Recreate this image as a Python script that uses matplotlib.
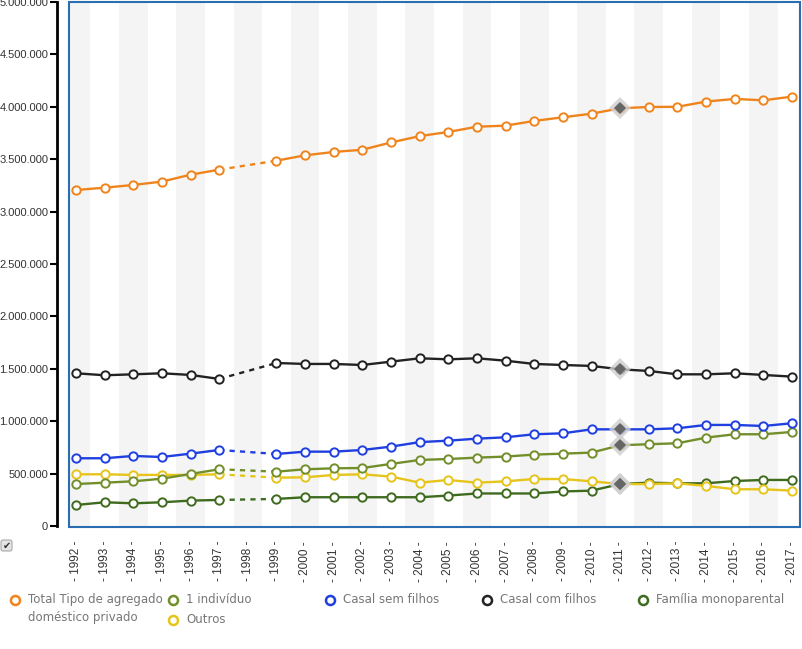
import matplotlib.pyplot as plt
import matplotlib.ticker as mticker
from matplotlib.patches import Rectangle, FancyBboxPatch
import numpy as np

# --- data, 1998 has no value ---
years = list(range(1992, 2018))
total = [3206000, 3228000, 3254000, 3286000, 3352000, 3400000, None, 3486000,
         3537000, 3569000, 3590000, 3660000, 3720000, 3760000, 3810000, 3820000,
         3865000, 3900000, 3934000, 3986000, 3998000, 4000000, 4050000, 4075000,
         4062000, 4097000]
um_individuo = [400000, 413000, 426000, 451000, 496000, 541000, None, 518000,
                541000, 550000, 553000, 592000, 630000, 639000, 652000, 662000,
                681000, 690000, 700000, 770000, 780000, 789000, 843000, 875000,
                875000, 897000]
casal_sem = [646000, 646000, 668000, 658000, 690000, 725000, None, 687000,
             709000, 709000, 725000, 757000, 800000, 814000, 833000, 846000,
             875000, 884000, 922000, 922000, 922000, 932000, 964000, 964000,
             954000, 980000]
casal_com = [1457000, 1438000, 1447000, 1457000, 1441000, 1403000, None, 1555000,
             1546000, 1546000, 1536000, 1568000, 1600000, 1590000, 1600000, 1577000,
             1546000, 1536000, 1527000, 1495000, 1479000, 1447000, 1447000, 1457000,
             1441000, 1425000]
monoparental = [200000, 226000, 216000, 226000, 242000, 248000, None, 258000,
                274000, 274000, 274000, 274000, 274000, 290000, 310000, 310000,
                310000, 329000, 337000, 400000, 413000, 407000, 407000, 429000,
                439000, 439000]
outros = [493000, 493000, 487000, 487000, 487000, 493000, None, 461000,
          464000, 487000, 493000, 471000, 413000, 439000, 413000, 426000,
          448000, 448000, 426000, 400000, 400000, 407000, 382000, 350000,
          350000, 337000]
break_year = 2011

series = [
    ("Família monoparental", monoparental, "#3f6b1f"),
    ("Outros", outros, "#e6c41a"),
    ("1 indivíduo", um_individuo, "#728f2c"),
    ("Casal sem filhos", casal_sem, "#1f3fe0"),
    ("Casal com filhos", casal_com, "#222222"),
    ("Total Tipo de agregado\ndoméstico privado", total, "#f0841c"),
]

plt.rcParams['font.family'] = ['Liberation Sans', 'DejaVu Sans']

fig = plt.figure(figsize=(8.02, 6.49), dpi=100)
W, H = 802, 649
ax = fig.add_axes([69 / W, 1 - 527 / H, 731 / W, 525 / H])

x0 = 1992 - 7 / 28.64
x1 = 2017 + 8 / 28.64
ax.set_xlim(x0, x1)
ax.set_ylim(-10000, 5000000)

# alternating background stripes
for i, yr in enumerate(years):
    if i % 2 == 0:
        ax.axvspan(yr - 0.5, yr + 0.5, color="#f4f4f4", lw=0, zorder=0)

for name, vals, col in series:
    v = np.array([np.nan if a is None else a for a in vals], dtype=float)
    ax.plot(years, v, color=col, lw=1.7, marker="o", ms=6, mfc="white",
            mec=col, mew=1.4, zorder=3)
    # dashed bridge over the missing year
    gi = years.index(1998)
    ax.plot([years[gi - 1], years[gi + 1]], [v[gi - 1], v[gi + 1]],
            color=col, lw=1.7, ls=(0, (2.2, 2.2)), zorder=2)
    # series break marker
    bi = years.index(break_year)
    ax.plot(break_year, v[bi], marker="D", ms=11, color="#cfcfcf", alpha=0.8,
            mew=0, zorder=4)
    ax.plot(break_year, v[bi], marker="D", ms=6.5, color="#666666", mew=0,
            zorder=5)

# spines: black y axis offset to the left, blue box around the plot
for s in ["top", "right", "bottom"]:
    ax.spines[s].set_visible(False)
ax.spines["left"].set_position(("outward", 9))
ax.spines["left"].set_color("black")
ax.spines["left"].set_linewidth(2)
ax.spines["left"].set_bounds(0, 5000000)
ax.add_patch(Rectangle((0, 0), 1, 1, transform=ax.transAxes, fill=False,
                       ec="#2a6db0", lw=1.5, clip_on=False, zorder=6))

ax.yaxis.set_major_locator(mticker.MultipleLocator(500000))
ax.yaxis.set_major_formatter(mticker.FuncFormatter(
    lambda v, p: f"{int(v):,}".replace(",", ".")))
ax.tick_params(axis="y", length=5, width=1.5, color="black",
               labelsize=8, labelcolor="#333333", pad=1)

ax.set_xticks(years)
ax.set_xticklabels([f"- {yr} -" for yr in years], rotation=90,
                   fontsize=8.5, color="#333333")
ax.tick_params(axis="x", length=0, pad=10)

# legend drawn in figure pixel space
lax = fig.add_axes([0, 0, 1, 1])
lax.set_xlim(0, W)
lax.set_ylim(H, 0)
lax.axis("off")
legend_pos = {
    "Total Tipo de agregado\ndoméstico privado": (15, 600),
    "1 indivíduo": (173, 600),
    "Outros": (173, 620),
    "Casal sem filhos": (330, 600),
    "Casal com filhos": (487, 600),
    "Família monoparental": (643, 600),
}
for name, vals, col in series:
    mx, my = legend_pos[name]
    lax.plot(mx, my, marker="o", ms=6.5, mfc="white", mec=col, mew=1.8)
    lax.text(mx + 13, my - 7, name, fontsize=8.5, color="#777777",
             family=["DejaVu Sans"], va="top", ha="left", linespacing=1.5)

# checkbox at the lower left
lax.add_patch(FancyBboxPatch((1, 540), 11, 11, boxstyle="round,pad=0,rounding_size=2",
                             fc="#e4e4e4", ec="#aaaaaa", lw=0.8))
lax.text(6.5, 546, "✔", fontsize=7, ha="center", va="center",
         color="#333333", family=["DejaVu Sans"])

fig.savefig("out.png", dpi=100)
